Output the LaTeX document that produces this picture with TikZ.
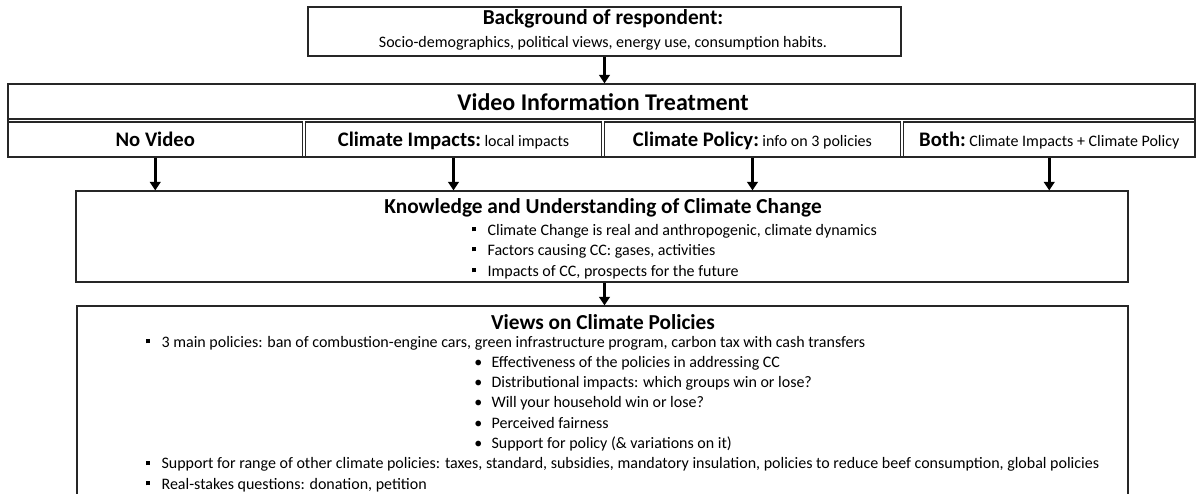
\documentclass[tikz,border=0pt]{standalone}
\usepackage{fontspec}
\setmainfont{Carlito}
\usetikzlibrary{arrows.meta,fit}

\newcommand{\sqb}{\rule[0.22em]{3pt}{3pt}\hspace{8.5pt}}
\newcommand{\rdb}{\textbullet\hspace{7pt}}
\newcommand{\cellsub}[1]{{\mdseries\fontsize{12}{14}\selectfont #1}}

\tikzset{
  box/.style={draw=black!85, line width=0.8pt, inner sep=0pt},
  arr/.style={-{Triangle[width=8pt,length=6.5pt]}, line width=2pt},
  head/.style={font=\bfseries\fontsize{16}{18}\selectfont, inner sep=0pt},
  cellhead/.style={font=\bfseries\fontsize{15.5}{17}\selectfont, inner sep=0pt, anchor=base},
  body/.style={font=\fontsize{12}{14}\selectfont, inner sep=0pt, anchor=base west}
}

\begin{document}
\begin{tikzpicture}[x=0.75pt, y=-0.75pt]
  \useasboundingbox (0,0) rectangle (1196,493);
  \clip (0,0) rectangle (1196,493);
  \node[box, fit={(308,7) (901,56)}] (bg) {};
  \node[box, fit={(8,84) (1195,157)}] (video) {};
  \node[box, fit={(8,122) (302.5,157)}] (novid) {};
  \node[box, fit={(305.5,122) (601.5,157)}] (impacts) {};
  \node[box, fit={(604.5,122) (900.5,157)}] (policy) {};
  \node[box, fit={(903.5,122) (1195,157)}] (both) {};
  \draw[black!85, line width=0.8pt] (video.west |- 0,119) -- (video.east |- 0,119);
  \node[box, fit={(76,191) (1128,282)}] (know) {};
  \node[box, fit={(77,306) (1128,520)}] (views) {};

  \draw[arr] (bg.south) -- (bg.south |- video.north);
  \draw[arr] (novid.south) -- (novid.south |- know.north);
  \draw[arr] (impacts.south) -- (impacts.south |- know.north);
  \draw[arr] (policy.south) -- (policy.south |- know.north);
  \draw[arr] (both.south) -- (both.south |- know.north);
  \draw[arr] (know.south -| bg.south) -- (bg.south |- views.north);

  \node[head] (bgtitle) at (603,19) {Background of respondent:};
  \node[font=\fontsize{12}{14}\selectfont, inner sep=0pt] (bgtext) at (603,43) {Socio-demographics, political views, energy use, consumption habits.};
  \node[head, font=\bfseries\fontsize{18}{20}\selectfont] (vtitle) at (603,102) {Video Information Treatment};
  \node[cellhead] (novidtext) at (novid.center |- 0,146) {No Video};
  \node[cellhead] (impactstext) at (impacts.center |- 0,146) {Climate Impacts:\,\cellsub{local impacts}};
  \node[cellhead] (policytext) at (policy.center |- 0,146) {Climate Policy:\,\cellsub{info on 3 policies}};
  \node[cellhead] (bothtext) at (both.center |- 0,146) {Both:\,\cellsub{Climate Impacts + Climate Policy}};

  \node[head] (knowtitle) at (603,208) {Knowledge and Understanding of Climate Change};
  \node[body] (know1) at (472,235) {\sqb Climate Change is real and anthropogenic, climate dynamics};
  \node[body] (know2) at (472,255) {\sqb Factors causing CC: gases, activities};
  \node[body] (know3) at (472,276) {\sqb Impacts of CC, prospects for the future};

  \node[head] (viewstitle) at (603,322) {Views on Climate Policies};
  \node[body] (views1) at (146,347) {\sqb 3 main policies: ban of combustion-engine cars, green infrastructure program, carbon tax with cash transfers};
  \node[body] (views2) at (474,367.3) {\rdb Effectiveness of the policies in addressing CC};
  \node[body] (views3) at (474,387.6) {\rdb Distributional impacts: which groups win or lose?};
  \node[body] (views4) at (474,407.9) {\rdb Will your household win or lose?};
  \node[body] (views5) at (474,428.1) {\rdb Perceived fairness};
  \node[body] (views6) at (474,448.4) {\rdb Support for policy (\& variations on it)};
  \node[body] (views7) at (146,468.7) {\sqb Support for range of other climate policies: taxes, standard, subsidies, mandatory insulation, policies to reduce beef consumption, global policies};
  \node[body] (views8) at (146,489) {\sqb Real-stakes questions: donation, petition};
\end{tikzpicture}
\end{document}
